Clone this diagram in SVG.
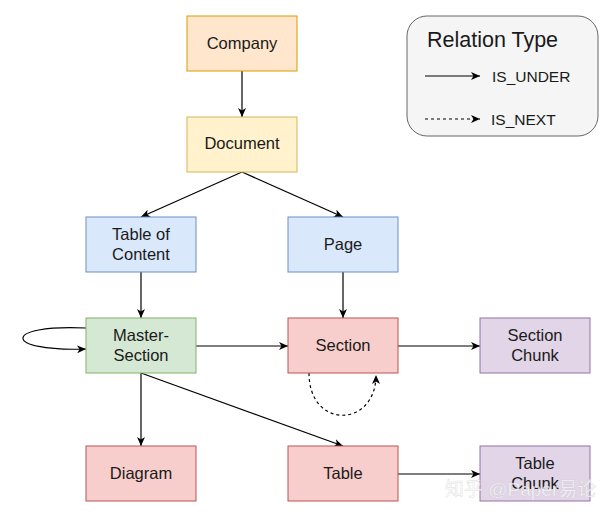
<svg xmlns="http://www.w3.org/2000/svg" width="601" height="515" viewBox="0 0 601 515">
<style>
  .box { stroke-width: 1; }
  .lbl { font-family: "Liberation Sans", Arial, sans-serif; font-size: 16.5px; fill: #1a1a1a; text-anchor: middle; }
  .edge { fill: none; stroke: #000; stroke-width: 1.2; }
  .dash { stroke-dasharray: 3 3; }
  .orange { fill: #ffe6cc; stroke: #d79b00; }
  .yellow { fill: #fff2cc; stroke: #d6b656; }
  .blue { fill: #dae8fc; stroke: #6c8ebf; }
  .green { fill: #d5e8d4; stroke: #82b366; }
  .red { fill: #f8cecc; stroke: #b85450; }
  .purple { fill: #e1d5e7; stroke: #9673a6; }
</style>
<defs>
  <marker id="arr" markerWidth="10" markerHeight="8" refX="9" refY="4" orient="auto" markerUnits="userSpaceOnUse">
    <path d="M0,0 L9,4 L0,8 L2.5,4 Z" fill="#000"/>
  </marker>
</defs>
<rect width="601" height="515" fill="#ffffff"/>

<g id="legend">
  <rect x="407" y="16" width="191" height="120" rx="20" fill="#f5f5f5" stroke="#666666"/>
  <text x="427" y="47" font-family="Liberation Sans, Arial, sans-serif" font-size="21.5" fill="#1a1a1a">Relation Type</text>
  <line class="edge" x1="425" y1="76" x2="480" y2="76" marker-end="url(#arr)"/>
  <text x="492" y="82" font-family="Liberation Sans, Arial, sans-serif" font-size="15.5" fill="#1a1a1a">IS_UNDER</text>
  <line class="edge dash" x1="425" y1="119" x2="480" y2="119" marker-end="url(#arr)"/>
  <text x="491" y="125" font-family="Liberation Sans, Arial, sans-serif" font-size="15.5" fill="#1a1a1a">IS_NEXT</text>
</g>

<g id="connectors">
  <line class="edge" x1="242" y1="71" x2="242" y2="117" marker-end="url(#arr)"/>
  <line class="edge" x1="242" y1="172" x2="141" y2="217" marker-end="url(#arr)"/>
  <line class="edge" x1="242" y1="172" x2="343" y2="217" marker-end="url(#arr)"/>
  <line class="edge" x1="141" y1="272" x2="141" y2="318" marker-end="url(#arr)"/>
  <line class="edge" x1="343" y1="272" x2="343" y2="318" marker-end="url(#arr)"/>
  <line class="edge" x1="196" y1="346" x2="288" y2="346" marker-end="url(#arr)"/>
  <line class="edge" x1="398" y1="346" x2="480" y2="346" marker-end="url(#arr)"/>
  <path class="edge" d="M86,328 C 2,324 2,352 86,349" marker-end="url(#arr)"/>
  <path class="edge dash" d="M309,373 C 309,430 376,428 376,375" marker-end="url(#arr)"/>
  <line class="edge" x1="141" y1="373" x2="141" y2="446" marker-end="url(#arr)"/>
  <line class="edge" x1="141" y1="373" x2="343" y2="446" marker-end="url(#arr)"/>
  <line class="edge" x1="398" y1="474" x2="480" y2="474" marker-end="url(#arr)"/>
</g>

<g id="company"><rect class="box orange" x="187" y="16" width="110" height="55"/><text class="lbl" x="242" y="49">Company</text></g>
<g id="document"><rect class="box yellow" x="187" y="117" width="110" height="55"/><text class="lbl" x="242" y="149">Document</text></g>
<g id="toc"><rect class="box blue" x="86" y="217" width="110" height="55"/><text class="lbl" x="141" y="240">Table of</text><text class="lbl" x="141" y="260">Content</text></g>
<g id="page"><rect class="box blue" x="288" y="217" width="110" height="55"/><text class="lbl" x="343" y="250">Page</text></g>
<g id="master-section"><rect class="box green" x="86" y="318" width="110" height="55"/><text class="lbl" x="141" y="341">Master-</text><text class="lbl" x="141" y="361">Section</text></g>
<g id="section"><rect class="box red" x="288" y="318" width="110" height="55"/><text class="lbl" x="343" y="351">Section</text></g>
<g id="section-chunk"><rect class="box purple" x="480" y="318" width="110" height="55"/><text class="lbl" x="535" y="341">Section</text><text class="lbl" x="535" y="361">Chunk</text></g>
<g id="diagram"><rect class="box red" x="86" y="446" width="110" height="55"/><text class="lbl" x="141" y="479">Diagram</text></g>
<g id="table"><rect class="box red" x="288" y="446" width="110" height="55"/><text class="lbl" x="343" y="479">Table</text></g>
<g id="table-chunk"><rect class="box purple" x="480" y="446" width="110" height="55"/><text class="lbl" x="535" y="469">Table</text><text class="lbl" x="535" y="489">Chunk</text></g>

<text x="445" y="496" font-family="Liberation Sans, Noto Sans CJK SC, sans-serif" font-size="19" fill="#ffffff" fill-opacity="0.75" stroke="#bbbbbb" stroke-opacity="0.5" stroke-width="0.5">知乎 @Paper易论</text>
</svg>
